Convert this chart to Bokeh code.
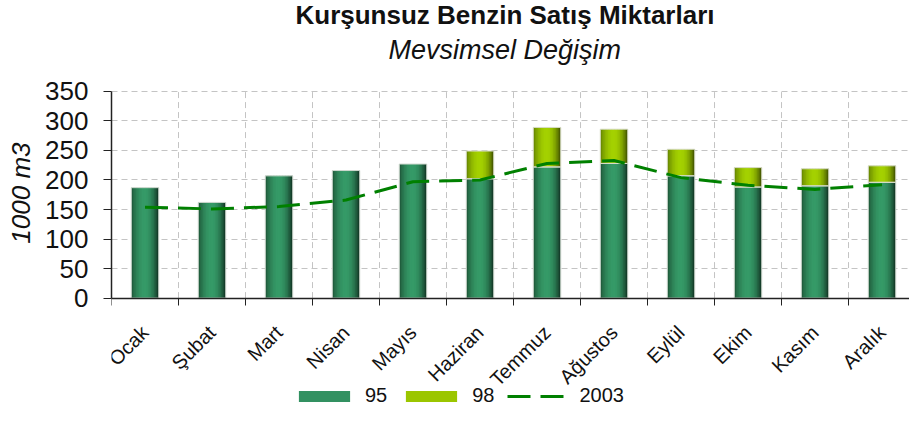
import numpy as np
from math import pi
from bokeh.plotting import figure
from bokeh.models import (Range1d, FixedTicker, Legend, LegendItem, Title,
                          ColumnDataSource)
from bokeh.embed import file_html
from bokeh.resources import INLINE

# ---- data ----
months = ["Ocak", "Şubat", "Mart", "Nisan", "Mayıs", "Haziran",
          "Temmuz", "Ağustos", "Eylül", "Ekim", "Kasım", "Aralık"]
sales_95 = [187, 162, 207, 216, 227, 202, 222, 228, 207, 188, 190, 196]
sales_98 = [0, 0, 0, 0, 0, 47, 67, 58, 45, 33, 29, 28]
sales_2003 = [154, 151, 155, 166, 197, 200, 228, 233, 204, 191, 184, 192]
y_ticks = [0, 50, 100, 150, 200, 250, 300, 350]
series_names = ["95", "98", "2003"]

FONT = "Liberation Sans"
n = len(months)
centers = np.arange(n) + 0.5
boundaries = np.arange(1, n)
bar_w = 0.41
N_STRIPS = 18

# layout (pixels): where the 0..350 value axis sits inside the canvas
CANVAS_H = 407
FRAME_TOP = 61            # height taken by the two titles above the frame
FRAME_BOTTOM = 400.5      # canvas y where the frame ends
AXIS_TOP = 83             # canvas y of value 350
AXIS_BOTTOM = 290.6       # canvas y of value 0
Y_MAX = y_ticks[-1]
ppu = (AXIS_BOTTOM - AXIS_TOP) / Y_MAX
y_end = Y_MAX + (AXIS_TOP - FRAME_TOP) / ppu
y_start = -(FRAME_BOTTOM - AXIS_BOTTOM) / ppu


def grad_color(t, dark, light, dark_r):
    f = np.sin(pi * min(max(t * 1.05, 0), 1)) ** 0.75
    edge = tuple(dark[k] + (dark_r[k] - dark[k]) * t for k in range(3))
    c = tuple(int(edge[k] + (light[k] - edge[k]) * f) for k in range(3))
    return "#%02x%02x%02x" % c


def strips(bottoms, tops, dark, light, dark_r):
    d = dict(left=[], right=[], bottom=[], top=[], color=[])
    step = bar_w / N_STRIPS
    for c, b, tp in zip(centers, bottoms, tops):
        for i in range(N_STRIPS):
            t = (i + 0.5) / N_STRIPS
            l = c - bar_w / 2 + i * step
            r = l + step * (1.6 if i < N_STRIPS - 1 else 1.0)
            d["left"].append(l)
            d["right"].append(r)
            d["bottom"].append(b)
            d["top"].append(tp)
            d["color"].append(grad_color(t, dark, light, dark_r))
    return ColumnDataSource(d)


p = figure(width=909, height=CANVAS_H, title=None,
           x_range=Range1d(0, 11.91), y_range=Range1d(y_start, y_end),
           output_backend="svg", toolbar_location=None,
           min_border_left=103, min_border_right=0,
           min_border_top=0, min_border_bottom=0)
p.outline_line_color = None
p.background_fill_color = "white"
p.border_fill_color = "white"

# vertical dashed grid between months, limited to the value range
p.segment(x0=boundaries, y0=[y_ticks[0]] * len(boundaries),
          x1=boundaries, y1=[Y_MAX] * len(boundaries),
          line_color="#c4c4c4", line_dash="6 4", line_width=1)

bottom_95 = [0] * n
top_95 = list(sales_95)
top_98 = [a + b for a, b in zip(sales_95, sales_98)]

src95 = strips(bottom_95, top_95, (28, 80, 52), (54, 155, 104), (20, 58, 40))
src98 = strips(top_95, top_98, (95, 125, 0), (165, 210, 0), (70, 88, 0))

r95 = p.quad(left="left", right="right", bottom="bottom", top="top",
             fill_color="color", line_color=None, source=src95)
r98 = p.quad(left="left", right="right", bottom="bottom", top="top",
             fill_color="color", line_color=None, source=src98)
p.quad(left=centers - bar_w / 2, right=centers + bar_w / 2, bottom=bottom_95, top=top_95,
       fill_color=None, line_color="#cfd8cf", line_width=1)
mask = [v > 0 for v in sales_98]
p.quad(left=(centers - bar_w / 2)[mask], right=(centers + bar_w / 2)[mask],
       bottom=np.array(top_95)[mask], top=np.array(top_98)[mask],
       fill_color=None, line_color="#d8dcc8", line_width=1)

r03 = p.line(centers, sales_2003, line_color="#008000", line_width=3, line_dash="23 10")

# ---- axes ----
xa = p.xaxis[0]
xa.fixed_location = 0
xa.ticker = FixedTicker(ticks=list(centers), minor_ticks=list(range(0, n)))
xa.major_label_overrides = {float(c): m for c, m in zip(centers, months)}
xa.major_tick_out = 0
xa.major_tick_in = 0
xa.minor_tick_out = 7
xa.minor_tick_in = 0
xa.minor_tick_line_color = "#222222"
xa.major_label_orientation = pi / 4
xa.major_label_text_font = FONT
xa.major_label_text_font_size = "20px"
xa.major_label_text_color = "#111111"
xa.major_label_standoff = 24
xa.axis_line_color = "#222222"
xa.axis_line_width = 1.5

ya = p.yaxis[0]
ya.bounds = (y_ticks[0], Y_MAX)
ya.ticker = FixedTicker(ticks=y_ticks)
ya.major_tick_out = 8
ya.major_tick_in = 0
ya.minor_tick_out = 0
ya.minor_tick_in = 0
ya.major_tick_line_color = "#222222"
ya.major_label_text_font = FONT
ya.major_label_text_font_size = "26px"
ya.major_label_text_color = "#111111"
ya.major_label_standoff = 15
ya.axis_line_color = "#222222"
ya.axis_line_width = 1.5

# value-axis title, placed beside the 0..350 span
p.add_layout(Title(text="1000 m3", text_font=FONT, text_font_size="26px",
                   text_font_style="italic", text_color="#111111",
                   align="right", vertical_align="top", offset=73, standoff=10), "left")

p.xgrid.visible = False
p.ygrid.ticker = FixedTicker(ticks=y_ticks[1:])
p.ygrid.grid_line_color = "#c4c4c4"
p.ygrid.grid_line_dash = "6 4"
p.ygrid.grid_line_width = 1

# ---- titles ----
p.add_layout(Title(text="Mevsimsel Değişim", text_font=FONT, text_font_size="27px",
                   text_font_style="italic", text_color="#111111",
                   align="left", offset=277, standoff=10), "above")
p.add_layout(Title(text="Kurşunsuz Benzin Satış Miktarları", text_font=FONT,
                   text_font_size="26px", text_font_style="bold", text_color="#111111",
                   align="left", offset=184, standoff=-5), "above")

# ---- legend at the bottom of the canvas ----
legend = Legend(items=[
    LegendItem(label=series_names[0], renderers=[r95], index=5),
    LegendItem(label=series_names[1], renderers=[r98], index=N_STRIPS * 5 + 5),
    LegendItem(label=series_names[2], renderers=[r03]),
], orientation="horizontal", location=(181, 0),
    border_line_color=None, background_fill_alpha=0,
    padding=0, margin=0, spacing=12, glyph_width=64, glyph_height=14,
    label_standoff=9, label_text_font=FONT, label_text_font_size="20px",
    label_text_color="#111111")
p.add_layout(legend, "center")

open("out.html", "w").write(file_html(p, INLINE))
